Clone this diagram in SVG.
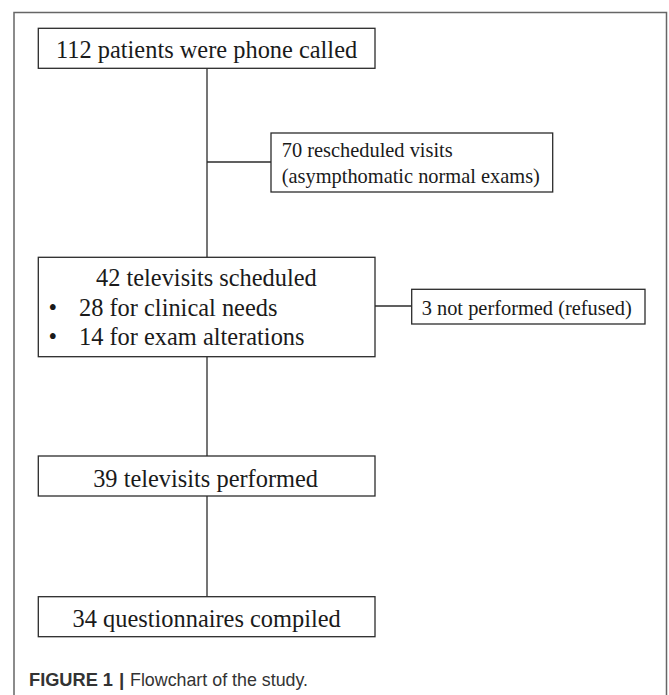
<svg xmlns="http://www.w3.org/2000/svg" width="669" height="695" viewBox="0 0 669 695">
<style>
.box{fill:#fff;stroke:#2b2b2b;stroke-width:1.3}
.t{font-family:"Liberation Serif","Times New Roman",serif;font-size:24.4px;fill:#1a1a1a}
.s{font-family:"Liberation Serif","Times New Roman",serif;font-size:20.4px;fill:#1a1a1a}
.c{fill:none;stroke:#2b2b2b;stroke-width:1.3}
.cap{font-family:"Liberation Sans",Arial,sans-serif;font-size:19px;fill:#333}
</style>
<rect x="0" y="0" width="669" height="695" fill="#fff"/>
<path d="M14 700 V12.5 H666.5 V700" fill="none" stroke="#666" stroke-width="1.5"/>
<g id="connectors">
<line class="c" x1="207" y1="68.3" x2="207" y2="257.3"/>
<line class="c" x1="207" y1="162" x2="271" y2="162"/>
<line class="c" x1="375" y1="306" x2="412" y2="306"/>
<line class="c" x1="207" y1="356.7" x2="207" y2="456"/>
<line class="c" x1="207" y1="496" x2="207" y2="596.7"/>
</g>
<g id="n1">
<rect class="box" x="38.3" y="28.3" width="336.7" height="40"/>
<text class="t" x="206.6" y="58.3" text-anchor="middle">112 patients were phone called</text>
</g>
<g id="n2">
<rect class="box" x="271" y="133" width="281.7" height="59"/>
<text class="s" x="281.7" y="157.3">70 rescheduled visits</text>
<text class="s" x="281.7" y="182.7">(asympthomatic normal exams)</text>
</g>
<g id="n3">
<rect class="box" x="38.3" y="257.3" width="336.7" height="99.4"/>
<text class="t" x="206.4" y="286" text-anchor="middle">42 televisits scheduled</text>
<text class="t" x="48.5" y="316">•</text>
<text class="t" x="79" y="316">28 for clinical needs</text>
<text class="t" x="48.5" y="345">•</text>
<text class="t" x="79" y="345">14 for exam alterations</text>
</g>
<g id="n4">
<rect class="box" x="411.7" y="289.3" width="233.3" height="34.7"/>
<text class="s" x="421.7" y="315">3 not performed (refused)</text>
</g>
<g id="n5">
<rect class="box" x="38.3" y="456" width="336.7" height="40"/>
<text class="t" x="205.6" y="487" text-anchor="middle">39 televisits performed</text>
</g>
<g id="n6">
<rect class="box" x="38.3" y="596.7" width="336.7" height="40"/>
<text class="t" x="206.7" y="627" text-anchor="middle">34 questionnaires compiled</text>
</g>
<g id="caption">
<text class="cap" x="29" y="686" font-weight="bold" textLength="84" lengthAdjust="spacingAndGlyphs">FIGURE 1</text>
<text class="cap" x="119" y="686" font-weight="bold">|</text>
<text class="cap" x="130" y="686" textLength="178" lengthAdjust="spacingAndGlyphs">Flowchart of the study.</text>
</g>
</svg>
